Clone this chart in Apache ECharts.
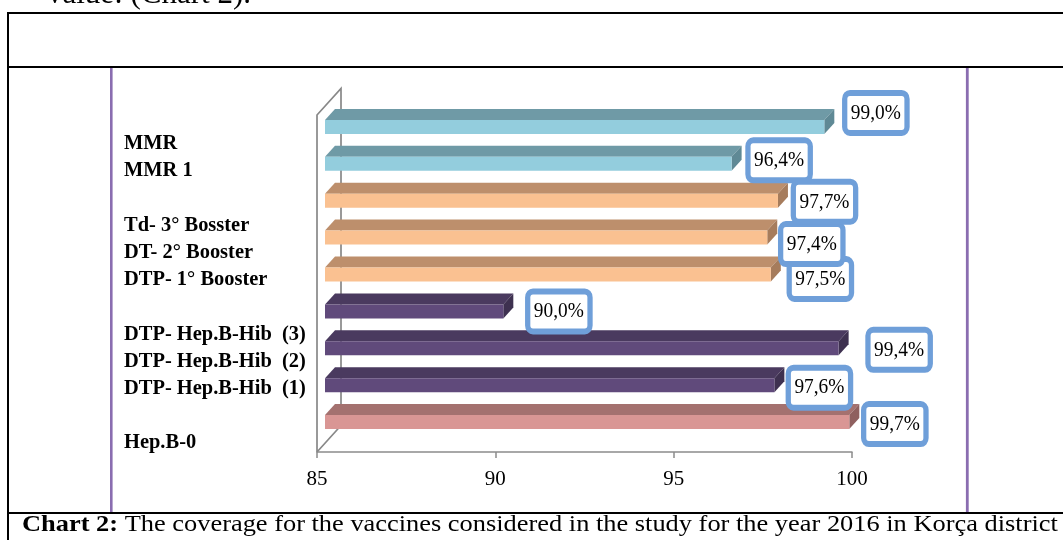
<!DOCTYPE html>
<html>
<head>
<meta charset="utf-8">
<script src="https://cdn.jsdelivr.net/npm/echarts@6/dist/echarts.min.js"></script>
<style>
html,body{margin:0;padding:0;background:#fff;}
#chart{width:1063px;height:540px;}
</style>
</head>
<body>
<div id="chart"></div>
<script>
// ---- data (bottom to top, as drawn on the category axis) ----
const categories = ['Hep.B-0', 'DTP- Hep.B-Hib  (1)', 'DTP- Hep.B-Hib  (2)', 'DTP- Hep.B-Hib  (3)',
  'DTP- 1° Booster', 'DT- 2° Booster', 'Td- 3° Bosster', 'MMR 1', 'MMR'];
const coverage = [99.7, 97.6, 99.4, 90.0, 97.5, 97.4, 97.7, 96.4, 99.0];
const groups = ['Hep.B', 'DTP-Hep.B-Hib', 'DTP-Hep.B-Hib', 'DTP-Hep.B-Hib',
  'Booster', 'Booster', 'Booster', 'MMR', 'MMR'];
const xTicks = [85, 90, 95, 100];
const captionBold = 'Chart 2:';
const captionText = ' The coverage for the vaccines considered in the study for the year 2016 in Korça district';
const topText = 'value: (Chart 2).';

// ---- styling / layout (kept apart from the data) ----
const palette = {
  'MMR':           {front: '#93cddd', top: '#6f9aa6', side: '#5f8995'},
  'Booster':       {front: '#fac191', top: '#bd8f6c', side: '#a67c5c'},
  'DTP-Hep.B-Hib': {front: '#604a7b', top: '#4a3a5f', side: '#3e3150'},
  'Hep.B':         {front: '#d99694', top: '#a4716f', side: '#8f605f'}
};
// manual nudges of the value boxes (as moved by hand in the original)
const labelNudge = [[4, 2], [3.5, 2.5], [19, 1.5], [14, 0], [8, 4.5], [3, 6.5], [5, 1], [6, -3.5], [10, -14]];
const serif = '"Liberation Serif", "Times New Roman", serif';

const xMin = xTicks[0], xMax = xTicks[xTicks.length - 1];
const depthX = 10, depthY = 11, halfH = 7, shiftX = 8;

function fmt(v) { return v.toFixed(1).replace('.', ',') + '%'; }

// category label block with blank lines between vaccine groups
const lines = [];
for (let i = categories.length - 1; i >= 0; i--) {
  if (i < categories.length - 1 && groups[i] !== groups[i + 1]) lines.push('');
  lines.push(categories[i]);
}

const chart = echarts.init(document.getElementById('chart'), null, {renderer: 'canvas'});

const option = {
  animation: false,
  backgroundColor: '#fff',
  grid: {left: 317, width: 535, top: 108.5, height: 332},
  xAxis: {
    type: 'value', min: xMin, max: xMax, interval: 5, offset: 11.5,
    axisLine: {show: true, lineStyle: {color: '#8c8c8c', width: 1.5}},
    axisTick: {show: true, length: 6, lineStyle: {color: '#8c8c8c', width: 1.5}},
    splitLine: {show: false},
    axisLabel: {fontFamily: serif, fontSize: 21, color: '#000', margin: 17}
  },
  yAxis: {
    type: 'category', data: categories,
    axisLine: {show: false}, axisTick: {show: false}, axisLabel: {show: false}, splitLine: {show: false}
  },
  graphic: [
    // document table borders
    {type: 'line', shape: {x1: 7, y1: 13, x2: 1063, y2: 13}, style: {stroke: '#000', lineWidth: 2}},
    {type: 'line', shape: {x1: 7, y1: 67, x2: 1063, y2: 67}, style: {stroke: '#000', lineWidth: 2}},
    {type: 'line', shape: {x1: 7, y1: 513, x2: 1063, y2: 513}, style: {stroke: '#000', lineWidth: 2}},
    {type: 'line', shape: {x1: 8, y1: 12, x2: 8, y2: 540}, style: {stroke: '#000', lineWidth: 2}},
    // chart frame (purple)
    {type: 'line', shape: {x1: 111.3, y1: 68, x2: 111.3, y2: 512}, style: {stroke: '#8a6db0', lineWidth: 2.6}},
    {type: 'line', shape: {x1: 967.3, y1: 68, x2: 967.3, y2: 512}, style: {stroke: '#8a6db0', lineWidth: 2.8}},
    // category labels
    {type: 'text', x: 124, y: 130, scaleX: 0.93, style: {
      text: lines.join('\n'), fontFamily: serif, fontWeight: 'bold', fontSize: 22,
      lineHeight: 27.2, fill: '#000', align: 'left', verticalAlign: 'top'}},
    // caption
    {type: 'text', x: 22, y: 525, scaleX: 1.1, style: {
      text: '{b|' + captionBold + '}' + captionText,
      fontFamily: serif, fontSize: 24, fill: '#000', verticalAlign: 'middle',
      rich: {b: {fontFamily: serif, fontSize: 24, fontWeight: 'bold', fill: '#000'}}}},
    // text above the table (cut off)
    {type: 'text', x: 47, y: -5, style: {
      text: topText, fontFamily: serif, fontSize: 31, fill: '#000', verticalAlign: 'middle'}}
  ],
  series: [
    {
      // 3-D wall / floor frame
      type: 'custom', z: 1, silent: true,
      data: [[xMin, 0]],
      encode: {x: 0, y: 1},
      renderItem: function (params, api) {
        const cs = params.coordSys;
        const fx = cs.x, floorY = cs.y + cs.height + 11.5, topY = cs.y + 6.5;
        const bx = fx + 24, by = -26.5;
        const st = {stroke: '#888888', lineWidth: 1.7, fill: null};
        return {type: 'group', children: [
          {type: 'polyline', shape: {points: [[fx, floorY], [fx, topY], [bx, topY + by], [bx, floorY + by], [fx, floorY]]}, style: st}
        ]};
      }
    },
    {
      type: 'custom', z: 2,
      data: coverage.map(function (v, i) { return [v, i]; }),
      encode: {x: 0, y: 1},
      renderItem: function (params, api) {
        const v = api.value(0), ci = api.value(1);
        const p0 = api.coord([xMin, ci]), p1 = api.coord([v, ci]);
        const x0 = p0[0] + shiftX, x1 = p1[0] + shiftX, cy = p1[1];
        const c = palette[groups[ci]];
        const nd = labelNudge[ci];
        const yt = cy - halfH, yb = cy + halfH;
        return {type: 'group', children: [
          {type: 'polygon', shape: {points: [[x0, yt], [x1, yt], [x1 + depthX, yt - depthY], [x0 + depthX, yt - depthY]]},
            style: {fill: c.top}},
          {type: 'polygon', shape: {points: [[x1, yt], [x1 + depthX, yt - depthY], [x1 + depthX, yb - depthY], [x1, yb]]},
            style: {fill: c.side}},
          {type: 'rect', shape: {x: x0, y: yt, width: x1 - x0, height: yb - yt}, style: {fill: c.front}},
          {type: 'text', z2: 20, x: x1 + depthX + 3 + nd[0], y: cy + nd[1], scaleX: 0.88,
            style: {text: fmt(v), fontFamily: serif, fontSize: 22, lineHeight: 24, fill: '#000',
              align: 'left', verticalAlign: 'middle', backgroundColor: '#fff',
              borderColor: '#6f9fd9', borderWidth: 6, borderRadius: 3, padding: [5, 4, 5, 4]}}
        ]};
      }
    }
  ]
};
chart.setOption(option);
</script>
</body>
</html>
